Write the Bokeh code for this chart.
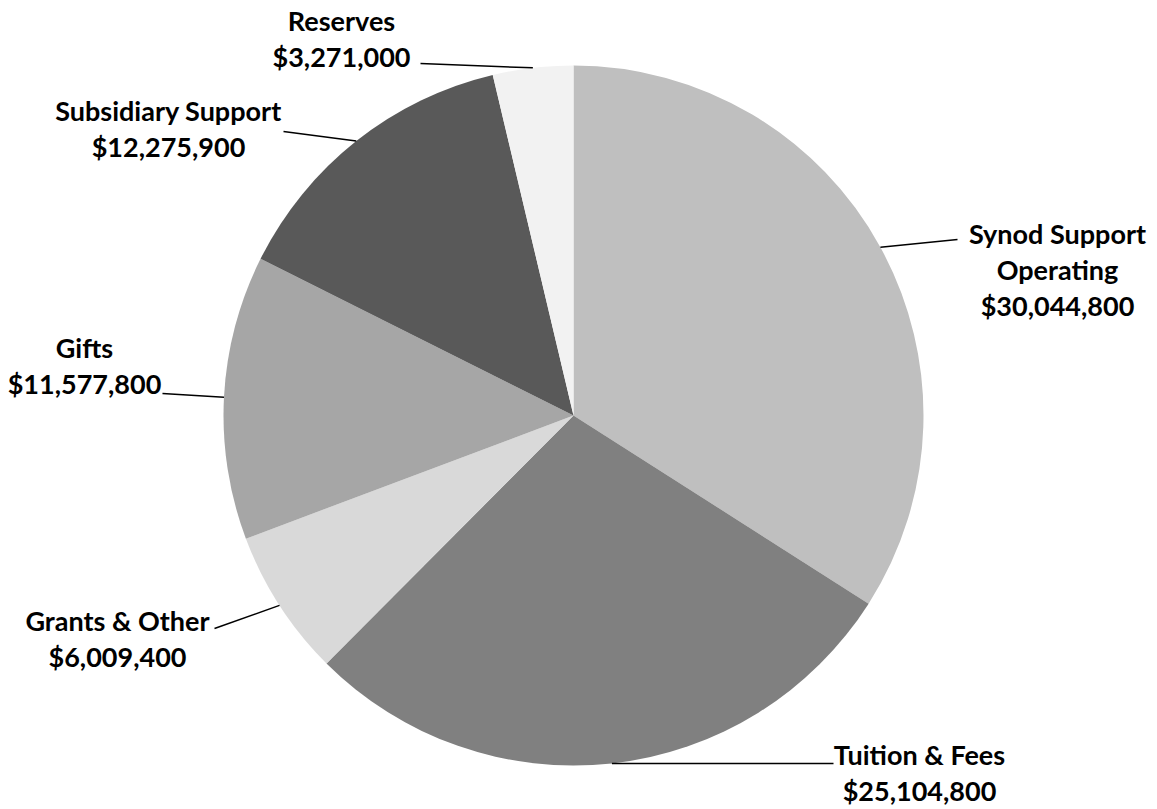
import math
from bokeh.plotting import figure
from bokeh.models import Range1d, ColumnDataSource
from bokeh.core.properties import value
from bokeh.embed import file_html
from bokeh.resources import INLINE

# ---- data ----
categories = ["Synod Support Operating", "Tuition & Fees", "Grants & Other",
              "Gifts", "Subsidiary Support", "Reserves"]
amounts = [30044800, 25104800, 6009400, 11577800, 12275900, 3271000]
colors = ["#bfbfbf", "#808080", "#d9d9d9", "#a6a6a6", "#595959", "#f2f2f2"]
label_lines = [["Synod Support", "Operating"], ["Tuition & Fees"], ["Grants & Other"],
               ["Gifts"], ["Subsidiary Support"], ["Reserves"]]

# ---- layout (image pixel coords; y measured downward) ----
W, H = 1149, 809
CX, CY_PAGE, R = 573, 415, 350
label_center = [(1057, 233), (919, 754), (117, 620), (84, 347), (168, 110), (341, 20)]
leader_end = [(957, 239), (833, 763), (214, 628), (162, 393), (283, 131), (420, 63)]
LINE_H = 36

def py(page_y):
    return H - page_y

p = figure(width=W, height=H, output_backend="svg", toolbar_location=None,
           x_range=Range1d(0, W), y_range=Range1d(0, H),
           min_border=0, outline_line_color=None, background_fill_color="white",
           border_fill_color="white")
p.axis.visible = False
p.grid.visible = False

total = float(sum(amounts))
starts, ends, mids = [], [], []
acc = 0.0
for a in amounts:
    s = math.pi / 2 - 2 * math.pi * acc / total
    acc += a
    e = math.pi / 2 - 2 * math.pi * acc / total
    starts.append(s)
    ends.append(e)
    mids.append((s + e) / 2)

src = ColumnDataSource(dict(start=ends, end=starts, color=colors, name=categories))
p.wedge(x=CX, y=py(CY_PAGE), radius=R, start_angle="start", end_angle="end",
        direction="anticlock", fill_color="color", line_color=None, source=src)

# leader lines
for i, m in enumerate(mids):
    ex = CX + R * math.cos(m)
    ey = py(CY_PAGE) + R * math.sin(m)
    lx, ly = leader_end[i]
    p.line([lx, ex], [py(ly), ey], line_color="black", line_width=1.5)

# labels
tx, ty, tt = [], [], []
for i, lines in enumerate(label_lines):
    cx, cy = label_center[i]
    all_lines = lines + ["${:,}".format(amounts[i])]
    for j, t in enumerate(all_lines):
        tx.append(cx)
        ty.append(py(cy + j * LINE_H))
        tt.append(t)
p.text(x=tx, y=ty, text=tt, text_align="center", text_baseline="middle",
       text_font=value("Lato"), text_font_style="bold", text_font_size="27px",
       text_color="black")

open("out.html", "w").write(file_html(p, INLINE))
